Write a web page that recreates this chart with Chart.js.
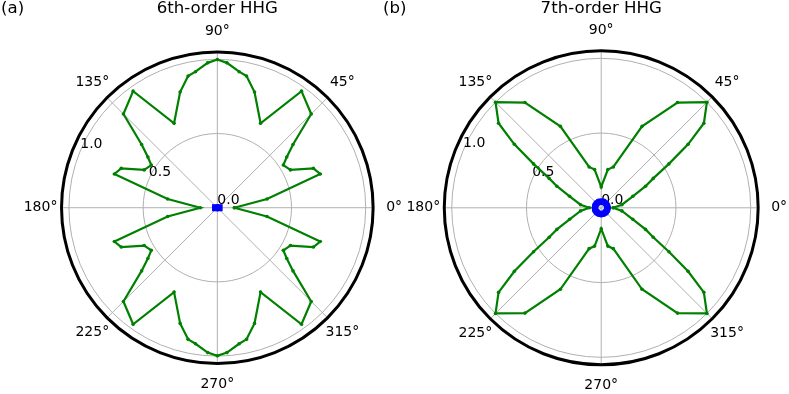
<!DOCTYPE html>
<html>
<head>
<meta charset="utf-8">
<script src="https://cdn.jsdelivr.net/npm/chart.js@4.4.1/dist/chart.umd.min.js"></script>
<style>
html,body{margin:0;padding:0;background:#fff;}
#wrap{position:relative;width:789px;height:394px;overflow:hidden;}
canvas{position:absolute;top:0;}
#cA{left:0}
#cB{left:380px}
</style>
</head>
<body>
<div id="wrap">
  <canvas id="cA" width="420" height="394"></canvas>
  <canvas id="cB" width="409" height="394"></canvas>
</div>
<script>
// ---- data (angles in degrees, radius in normalised units) ----
// (a) 6th-order HHG
const thetaA = [0, 10, 18.2, 22.3, 27.4, 32.9, 36.2, 39.9, 45, 54.2, 62.9, 72.2, 77.5, 80.9, 86.2, 90,
  93.8, 99.1, 102.5, 107.8, 117.1, 125.8, 135, 140.1, 143.8, 147.1, 152.6, 157.7, 161.8, 170, 180,
  190, 198.2, 202.3, 207.4, 212.9, 216.2, 219.9, 225, 234.2, 242.9, 252.2, 257.5, 260.9, 266.2, 270,
  273.8, 279.1, 282.5, 287.8, 297.1, 305.8, 315, 320.1, 323.8, 327.1, 332.6, 337.7, 341.8, 350, 360];
const radiusA = [0.115, 0.34, 0.73, 0.70, 0.555, 0.53, 0.58, 0.665, 0.895, 0.97, 0.64, 0.82, 0.91, 0.93, 0.98, 1.0,
  0.98, 0.93, 0.91, 0.82, 0.64, 0.97, 0.895, 0.665, 0.58, 0.53, 0.555, 0.70, 0.73, 0.34, 0.115,
  0.34, 0.73, 0.70, 0.555, 0.53, 0.58, 0.665, 0.895, 0.97, 0.64, 0.82, 0.91, 0.93, 0.98, 1.0,
  0.98, 0.93, 0.91, 0.82, 0.64, 0.97, 0.895, 0.665, 0.58, 0.53, 0.555, 0.70, 0.73, 0.34, 0.115];
const thetaABlue = [0, 180];
const radiusABlue = [0.012, 0.012];

// (b) 7th-order HHG
const thetaB = [0, 8.5, 20, 26, 29.5, 33, 36.2, 39.5, 45, 54.1, 63.4, 73.5, 80.2, 90,
  99.8, 106.5, 116.6, 125.9, 135, 140.5, 143.8, 147, 150.5, 154, 160, 171.5, 180,
  188.5, 200, 206, 209.5, 213, 216.2, 219.5, 225, 234.1, 243.4, 253.5, 260.2, 270,
  279.8, 286.5, 296.6, 305.9, 315, 320.5, 323.8, 327, 330.5, 334, 340, 351.5, 360];
const radiusB = [0.08, 0.14, 0.225, 0.33, 0.40, 0.54, 0.72, 0.89, 1.0, 0.87, 0.61, 0.285, 0.26, 0.14,
  0.26, 0.285, 0.61, 0.87, 1.0, 0.89, 0.72, 0.54, 0.40, 0.33, 0.225, 0.14, 0.08,
  0.14, 0.225, 0.33, 0.40, 0.54, 0.72, 0.89, 1.0, 0.87, 0.61, 0.285, 0.26, 0.14,
  0.26, 0.285, 0.61, 0.87, 1.0, 0.89, 0.72, 0.54, 0.40, 0.33, 0.225, 0.14, 0.08];
const thetaBBlue = [0, 22.5, 45, 67.5, 90, 112.5, 135, 157.5, 180,
  202.5, 225, 247.5, 270, 292.5, 315, 337.5, 360];
const radiusBBlue = [0.042, 0.042, 0.042, 0.042, 0.042, 0.042, 0.042, 0.042, 0.042,
  0.042, 0.042, 0.042, 0.042, 0.042, 0.042, 0.042, 0.042];

// axis ticks
const rTicks = [0.0, 0.5, 1.0];
const rTickLabels = ['0.0', '0.5', '1.0'];
const thetaTicks = [0, 45, 90, 135, 180, 225, 270, 315];
const thetaTickLabels = ['0°', '45°', '90°', '135°', '180°', '225°', '270°', '315°'];
const rMax = 1.05;
const rLabelAngle = 157.5;

const FONT = '"DejaVu Sans", sans-serif';
const rad = d => d * Math.PI / 180;
const toXY = (th, r) => th.map((t, i) => ({ x: r[i] * Math.cos(rad(t)), y: r[i] * Math.sin(rad(t)) }));

// polar frame drawn through the x/y scales
const polarFrame = {
  id: 'polarFrame',
  beforeDatasetsDraw(chart, args, o){
    const ctx = chart.ctx, xs = chart.scales.x, ys = chart.scales.y;
    const px = (t, r) => [xs.getPixelForValue(r * Math.cos(rad(t))), ys.getPixelForValue(r * Math.sin(rad(t)))];
    const cx = xs.getPixelForValue(0), cy = ys.getPixelForValue(0);
    const R = xs.getPixelForValue(rMax) - cx;
    ctx.save();
    ctx.strokeStyle = '#b0b0b0';
    ctx.lineWidth = 1;
    rTicks.forEach(t => {
      if(t <= 0) return;
      ctx.beginPath(); ctx.arc(cx, cy, xs.getPixelForValue(t) - cx, 0, Math.PI * 2); ctx.stroke();
    });
    thetaTicks.forEach(a => {
      const p = px(a, rMax);
      ctx.beginPath(); ctx.moveTo(cx, cy); ctx.lineTo(p[0], p[1]); ctx.stroke();
    });
    ctx.fillStyle = '#000';
    ctx.font = '14px ' + FONT;
    ctx.textAlign = 'left'; ctx.textBaseline = 'bottom';
    rTicks.forEach((t, i) => { const p = px(rLabelAngle, t); ctx.fillText(rTickLabels[i], p[0], p[1]); });
    ctx.textAlign = 'center'; ctx.textBaseline = 'middle';
    thetaTicks.forEach((a, i) => {
      ctx.fillText(thetaTickLabels[i], cx + (R + 21) * Math.cos(rad(a)), cy - (R + 21) * Math.sin(rad(a)));
    });
    // outer spine
    ctx.strokeStyle = '#000'; ctx.lineWidth = 3;
    ctx.beginPath(); ctx.arc(cx, cy, R, 0, Math.PI * 2); ctx.stroke();
    // title + panel tag
    ctx.font = '16.6px ' + FONT;
    ctx.textBaseline = 'alphabetic';
    ctx.textAlign = 'center';
    ctx.fillText(o.title, cx, 13);
    ctx.textAlign = 'left';
    ctx.fillText(o.tag, o.tagX, 13);
    ctx.restore();
  }
};

function makePolar(id, cx, cy, green, blue, blueStyle, blueSize, title, tag, tagX){
  const el = document.getElementById(id);
  const W = el.width, H = el.height, ppu = 152;
  return new Chart(el, {
    type: 'scatter',
    data: { datasets: [
      { data: blue, showLine: true, borderColor: '#0000ff', backgroundColor: '#0000ff', borderWidth: 2,
        pointStyle: blueStyle, pointRadius: blueSize, pointHoverRadius: blueSize, pointBorderWidth: 0, order: 0 },
      { data: green, showLine: true, borderColor: '#008000', backgroundColor: '#008000', borderWidth: 2.2,
        pointRadius: 1.8, pointHoverRadius: 1.8, pointBorderWidth: 0, order: 1 }
    ]},
    options: {
      responsive: false, animation: false, events: [],
      layout: { padding: 0 },
      scales: {
        x: { type: 'linear', display: false, min: -cx / ppu, max: (W - cx) / ppu },
        y: { type: 'linear', display: false, min: -(H - cy) / ppu, max: cy / ppu }
      },
      plugins: { legend: { display: false }, tooltip: { enabled: false },
        polarFrame: { title, tag, tagX } }
    },
    plugins: [polarFrame]
  });
}

makePolar('cA', 217.5, 208, toXY(thetaA, radiusA), toXY(thetaABlue, radiusABlue), 'rect', 5,
  '6th-order HHG', '(a)', 1);
makePolar('cB', 221.5, 208, toXY(thetaB, radiusB), toXY(thetaBBlue, radiusBBlue), 'circle', 3.4,
  '7th-order HHG', '(b)', 3);
</script>
</body>
</html>
